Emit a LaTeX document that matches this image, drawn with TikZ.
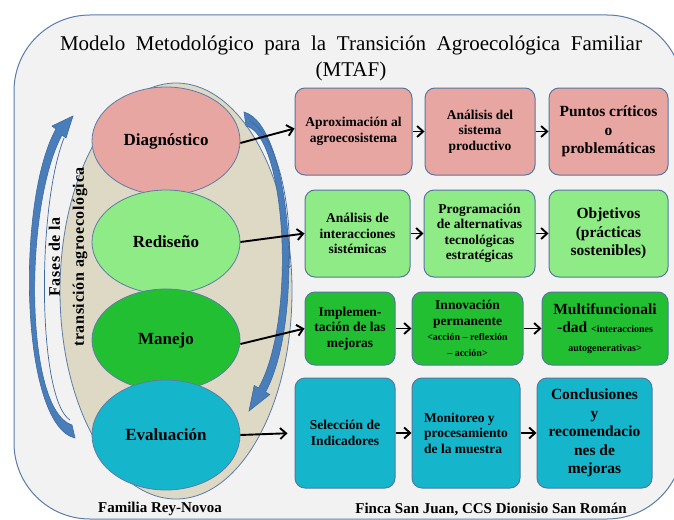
\documentclass[tikz,border=0pt]{standalone}
\usepackage{fontspec}
\setmainfont{Liberation Serif}
\usetikzlibrary{shapes.geometric, arrows.meta}

\definecolor{framefill}{HTML}{F2F2F2}
\definecolor{frameline}{HTML}{5B7CA8}
\definecolor{beige}{HTML}{DDD9C4}
\definecolor{rowpink}{HTML}{E8A6A2}
\definecolor{rowlime}{HTML}{8EEB86}
\definecolor{rowgreen}{HTML}{22BF33}
\definecolor{rowcyan}{HTML}{15B6CC}
\definecolor{boxline}{HTML}{56779F}
\definecolor{cyclefill}{HTML}{4A7EBB}
\definecolor{cycleline}{HTML}{3D6A9E}

\tikzset{
	phase/.style={ellipse, draw=frameline, line width=0.8pt, minimum width=148pt,
		inner sep=0pt, font=\bfseries\fontsize{17}{20}\selectfont},
	stepbox/.style={draw=boxline, line width=1pt, rounded corners=10pt, align=center,
		inner sep=2pt, font=\bfseries\fontsize{13.5}{15.5}\selectfont},
	bigtext/.style={font=\bfseries\fontsize{15.5}{18.5}\selectfont},
	smalltext/.style={},
	link/.style={-{Straight Barb[length=6pt, width=11pt]}, line width=1.9pt},
	cyclearrow/.style={fill=cyclefill, draw=cycleline, line width=0.6pt}
}
\newcommand{\smallpart}[1]{{\fontsize{10}{11.5}\selectfont #1}}

\begin{document}
\begin{tikzpicture}[x=1pt, y=-1pt]
	\useasboundingbox (0,0) rectangle (674,519);
	\clip (0,0) rectangle (674,519);
	\fill[white] (0,0) rectangle (674,519);

	% marco y titulo
	\draw[fill=framefill, draw=frameline, line width=1pt, rounded corners=76pt]
		(14,15) rectangle (683,519);
	\node[font=\fontsize{21}{26}\selectfont, align=center] (title) at (351,58)
		{\makebox[582pt][s]{Modelo Metodológico para la Transición Agroecológica Familiar}\\(MTAF)};

	% fases
	\node[ellipse, draw=frameline, line width=0.8pt, fill=beige,
		minimum width=232pt, minimum height=416pt] (fases) at (176,291) {};

	\filldraw[cyclearrow] (75,438) .. controls (20,425) and (16,200) .. (56,129)
		-- (52,126) -- (73,116) -- (66,138) -- (62,135)
		.. controls (24,205) and (24,410) .. (72,425) -- cycle;
	\draw[cycleline, line width=0.7pt] (64,138) .. controls (36,210) and (38,400) .. (70,420);

	\filldraw[cyclearrow] (244,112) .. controls (292,125) and (305,320) .. (265.5,392)
		-- (269.8,394.5) -- (249,411) -- (254.2,385.5) -- (258.5,388)
		.. controls (297,320) and (286,135) .. (246,126) -- cycle;
	\draw[cycleline, line width=0.7pt, -{Straight Barb[length=2pt, width=4pt]}]
		(250,121) .. controls (281,140) and (292,215) .. (289,268);

	\node[font=\bfseries\fontsize{16}{24}\selectfont\addfontfeature{LetterSpace=4},
		rotate=90, align=center] (fasestext) at (68,257)
		{Fases de la\\transición agroecológica};

	\node[phase, fill=rowpink, minimum height=108pt] (diag) at (166,141) {Diagnóstico};
	\node[phase, fill=rowlime, minimum height=104pt] (redi) at (166,242) {Rediseño};
	\node[phase, fill=rowgreen, minimum height=102pt] (manejo) at (166,340) {Manejo};
	\node[phase, fill=rowcyan, minimum height=110pt] (eval) at (166,435) {Evaluación};

	% fila 1
	\node[stepbox, fill=rowpink, minimum width=117pt, minimum height=87pt] (diagA) at (353.5,131.5)
		{Aproximación al\\agroecosistema};
	\node[stepbox, fill=rowpink, minimum width=110pt, minimum height=87pt] (diagB) at (480,131.5)
		{Análisis del\\sistema\\productivo};
	\node[stepbox, bigtext, fill=rowpink, minimum width=119pt, minimum height=87pt] (diagC) at (608.5,131.5)
		{Puntos críticos\\o\\problemáticas};

	% fila 2
	\node[stepbox, fill=rowlime, minimum width=105pt, minimum height=87pt] (rediA) at (357.5,233.5)
		{Análisis de\\interacciones\\sistémicas};
	\node[stepbox, fill=rowlime, minimum width=111pt, minimum height=87pt] (rediB) at (479.5,233.5)
		{Programación\\de alternativas\\tecnológicas\\estratégicas};
	\node[stepbox, bigtext, fill=rowlime, minimum width=119pt, minimum height=87pt] (rediC) at (608.5,233.5)
		{Objetivos\\(prácticas\\sostenibles)};

	% fila 3
	\node[stepbox, fill=rowgreen, minimum width=90pt, minimum height=73pt] (manejoA) at (350,328.5)
		{Implemen-\\tación de las\\mejoras};
	\node[stepbox, fill=rowgreen, minimum width=111pt, minimum height=73pt] (manejoB) at (467.5,328.5)
		{Innovación\\permanente\\\smallpart{<acción – reflexión}\\\smallpart{– acción>}};
	\node[stepbox, bigtext, fill=rowgreen, minimum width=126pt, minimum height=73pt] (manejoC) at (605,328.5)
		{Multifuncionali\\-dad \smallpart{<interacciones}\\\smallpart{autogenerativas>}};

	% fila 4
	\node[stepbox, fill=rowcyan, minimum width=100pt, minimum height=110pt] (evalA) at (345,433)
		{Selección de\\Indicadores};
	\node[stepbox, fill=rowcyan, align=left, minimum width=108pt, minimum height=110pt] (evalB) at (466,433)
		{Monitoreo y\\procesamiento\\de la muestra};
	\node[stepbox, bigtext, fill=rowcyan, minimum width=115pt, minimum height=110pt] (evalC) at (594.5,433)
		{Conclusiones\\y\\recomendacio\\nes de\\mejoras};

	\draw[link] ([yshift=-2pt]diag.east) -- ([yshift=3pt]diagA.west);
	\draw[link] (redi.east) -- (rediA.west);
	\draw[link] ([yshift=-4pt]manejo.east) -- (manejoA.west);
	\draw[link, shorten >=7pt] (eval.east) -- (evalA.west);

	\draw[link] (diagA) -- (diagB);
	\draw[link] (diagB) -- (diagC);
	\draw[link] (rediA) -- (rediB);
	\draw[link] (rediB) -- (rediC);
	\draw[link] (manejoA) -- (manejoB);
	\draw[link] (manejoB) -- (manejoC);
	\draw[link] (evalA) -- (evalB);
	\draw[link] (evalB) -- (evalC);

	\node[font=\bfseries\fontsize{15}{18}\selectfont] (familia) at (160,509) {Familia Rey-Novoa};
	\node[font=\bfseries\fontsize{15}{18}\selectfont] (finca) at (491,509) {Finca San Juan, CCS Dionisio San Román};
\end{tikzpicture}
\end{document}
